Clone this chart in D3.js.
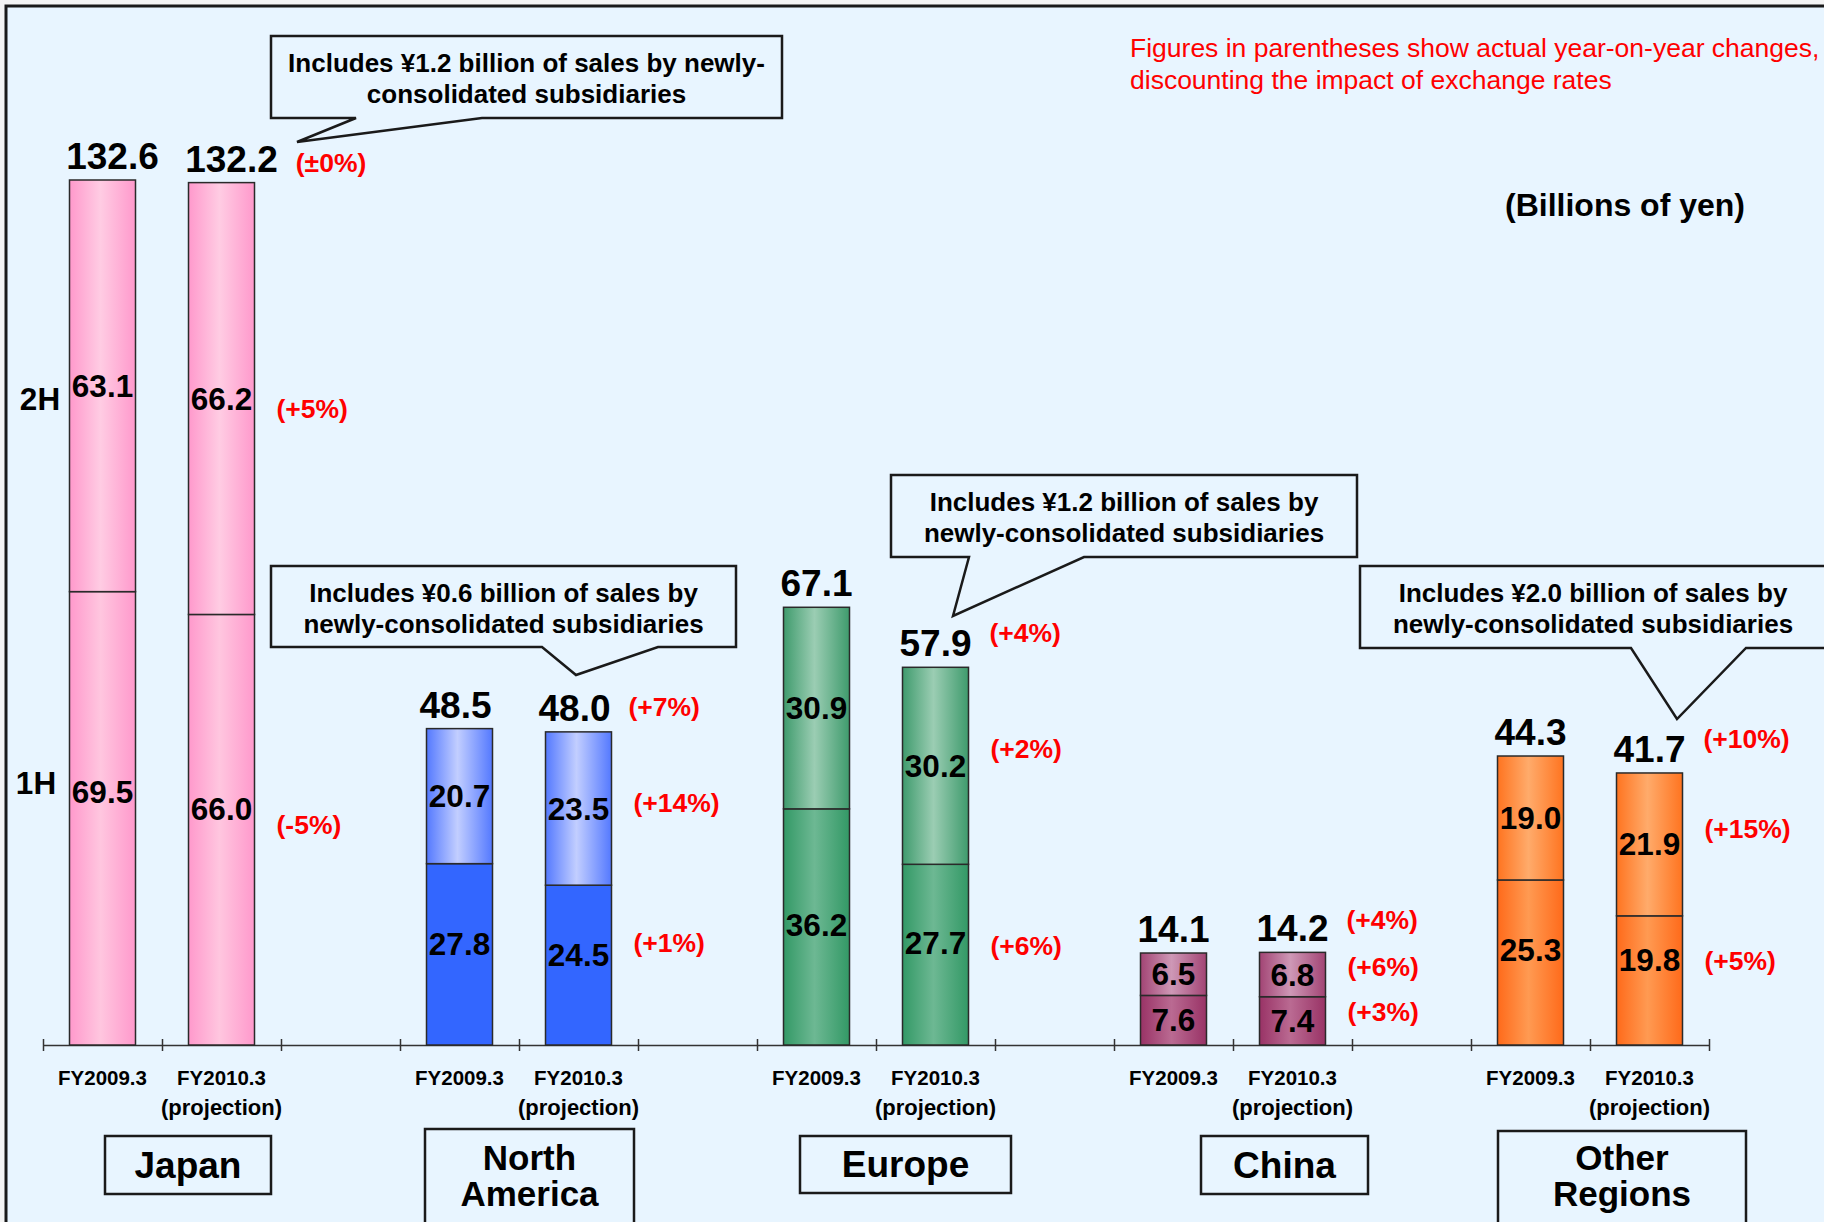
<!DOCTYPE html>
<html>
<head>
<meta charset="utf-8">
<script src="https://cdn.jsdelivr.net/npm/d3@7"></script>
<style>
body{margin:0;background:#f4f4f4;}
svg{display:block;font-family:"Liberation Sans",Arial,sans-serif;}
</style>
</head>
<body>
<div class="canvas"></div>
<script>
// data (billions of yen)
var regions = ['Japan','North America','Europe','China','Other Regions'];
var periods = ['FY2009.3','FY2010.3'];
var firstHalf  = [[69.5,66.0],[27.8,24.5],[36.2,27.7],[7.6,7.4],[25.3,19.8]];
var secondHalf = [[63.1,66.2],[20.7,23.5],[30.9,30.2],[6.5,6.8],[19.0,21.9]];
var totals     = [[132.6,132.2],[48.5,48.0],[67.1,57.9],[14.1,14.2],[44.3,41.7]];
var changeTotal = ['(±0%)','(+7%)','(+4%)','(+4%)','(+10%)'];
var change2H    = ['(+5%)','(+14%)','(+2%)','(+6%)','(+15%)'];
var change1H    = ['(-5%)','(+1%)','(+6%)','(+3%)','(+5%)'];
var calloutText = [
    ['Includes ¥1.2 billion of sales by newly-','consolidated subsidiaries'],
    ['Includes ¥0.6 billion of sales by','newly-consolidated subsidiaries'],
    ['Includes ¥1.2 billion of sales by','newly-consolidated subsidiaries'],
    null,
    ['Includes ¥2.0 billion of sales by','newly-consolidated subsidiaries']
];

// layout / styles
var W = 1824, H = 1222;
var bg = '#e8f5ff';
var colors = [
    {h1:['#ff99cc','#ffc6df'], h2:['#ff99cc','#ffcce3']},
    {h1:['#3366ff','#3366ff'], h2:['#5479ff','#c2ceff']},
    {h1:['#339966','#6db893'], h2:['#3f9b6d','#9bcdb3']},
    {h1:['#993366','#ba6a92'], h2:['#a24474','#ce98b6']},
    {h1:['#ff6a1a','#ff9a52'], h2:['#ff7420','#ffab6b']}
];
var calloutBox = [
    {x0:271,x1:782,y0:36,y1:118,o0:356,o1:482,tx:297,ty:142},
    {x0:271,x1:736,y0:566,y1:647,o0:542,o1:658,tx:576,ty:675},
    {x0:891,x1:1357,y0:475,y1:557,o0:969,o1:1084,tx:953,ty:616},
    null,
    {x0:1360,x1:1826,y0:566,y1:648,o0:1631,o1:1746,tx:1677,ty:719}
];
var regionBox = [
    {x0:105,x1:271,y0:1136,y1:1194},
    {x0:425,x1:634,y0:1129,y1:1245},
    {x0:800,x1:1011,y0:1136,y1:1193},
    {x0:1201,x1:1368,y0:1136,y1:1194},
    {x0:1498,x1:1746,y0:1131,y1:1245}
];
// hand placement nudges (px) as on the slide
var nudge1HLabel = [[-26,-21],[-10,-10],[-2,-12],[0,0],[-12,-20]];
var nudgeTotalX  = [10,-4,0,0,0];
var nudgePctTot  = [7,2,-7,-5,-7];
var nudgePct2H   = [10,-6,-17,-8,-15];
var nudgePct1H   = [-5,-22,-9,-9,-19];

var svg = d3.select('.canvas').append('svg')
    .attr('width',W).attr('height',H);

svg.append('rect')
    .attr('x',6).attr('y',6).attr('width',W+20).attr('height',H+20)
    .attr('fill',bg).attr('stroke','#1a1a1a').attr('stroke-width',3);

// gradients, horizontal edge -> light centre -> edge
var defs = svg.append('defs');
colors.forEach(function(c,g){
    ['h1','h2'].forEach(function(k){
        var grad = defs.append('linearGradient')
            .attr('id','grad'+g+k).attr('x1','0%').attr('x2','100%').attr('y1','0%').attr('y2','0%');
        grad.append('stop').attr('offset','0%').attr('stop-color',c[k][0]);
        grad.append('stop').attr('offset','47%').attr('stop-color',c[k][1]);
        grad.append('stop').attr('offset','100%').attr('stop-color',c[k][0]);
    });
});

// 5 groups x (2 bars + gap) = 14 slots
var slots = d3.range(14);
var x = d3.scaleBand().domain(slots).range([43,1709]);
var slotEdge = d3.scaleLinear().domain([0,14]).range([43,1709]);
var y = d3.scaleLinear().domain([0,132.6]).range([1045,180]);
var barW = 66;

function slotOf(g,p){ return g*3+p; }
function cx(g,p){ return x(slotOf(g,p)) + x.bandwidth()/2; }

// axis with ticks on slot boundaries
var axis = d3.axisBottom(slotEdge).tickValues(d3.range(15)).tickSize(6).tickSizeOuter(0).tickFormat('');
var axG = svg.append('g').attr('transform','translate(0,'+y(0)+')').call(axis);
axG.select('.domain').attr('stroke','#333').attr('stroke-width',1.5);
axG.selectAll('.tick line').attr('y1',-6).attr('y2',6).attr('stroke','#333').attr('stroke-width',1.5);

var bars = svg.append('g').attr('class','bars');
var labels = svg.append('g').attr('class','labels');

regions.forEach(function(r,g){
    periods.forEach(function(p,i){
        var c = cx(g,i);
        var v1 = firstHalf[g][i], v2 = secondHalf[g][i];
        // 1H
        bars.append('rect')
            .attr('x',c-barW/2).attr('y',y(v1)).attr('width',barW).attr('height',y(0)-y(v1))
            .attr('fill','url(#grad'+g+'h1)').attr('stroke','#2a2a2a').attr('stroke-width',1.5);
        // 2H stacked
        bars.append('rect')
            .attr('x',c-barW/2).attr('y',y(v1+v2)).attr('width',barW).attr('height',y(v1)-y(v1+v2))
            .attr('fill','url(#grad'+g+'h2)').attr('stroke','#2a2a2a').attr('stroke-width',1.5);

        labels.append('text')
            .attr('x',c).attr('y',(y(0)+y(v1))/2+nudge1HLabel[g][i])
            .attr('text-anchor','middle').attr('dominant-baseline','central')
            .attr('font-size',31.5).attr('font-weight','bold')
            .text(d3.format('.1f')(v1));
        labels.append('text')
            .attr('x',c).attr('y',(y(v1)+y(v1+v2))/2)
            .attr('text-anchor','middle').attr('dominant-baseline','central')
            .attr('font-size',31.5).attr('font-weight','bold')
            .text(d3.format('.1f')(v2));

        var tot = labels.append('text')
            .attr('x',c+nudgeTotalX[g]).attr('y',y(totals[g][i])-11)
            .attr('text-anchor','middle')
            .attr('font-size',37).attr('font-weight','bold')
            .text(d3.format('.1f')(totals[g][i]));

        // period labels under the axis
        labels.append('text')
            .attr('x',c).attr('y',1077)
            .attr('text-anchor','middle').attr('dominant-baseline','central')
            .attr('font-size',20.5).attr('font-weight','bold')
            .text(p);
        if(i==1){
            labels.append('text')
                .attr('x',c).attr('y',1107)
                .attr('text-anchor','middle').attr('dominant-baseline','central')
                .attr('font-size',22).attr('font-weight','bold')
                .text('(projection)');

            // year-on-year change labels to the right of the FY2010.3 bar
            var totRight = c + nudgeTotalX[g] + tot.node().getComputedTextLength()/2;
            var bx = c + barW/2 + 22;
            labels.append('text')
                .attr('x',totRight+18).attr('y',y(totals[g][i])-27+nudgePctTot[g])
                .attr('dominant-baseline','central')
                .attr('font-size',26.5).attr('font-weight','bold').attr('fill','#ff0000')
                .text(changeTotal[g]);
            labels.append('text')
                .attr('x',bx).attr('y',(y(v1)+y(v1+v2))/2+nudgePct2H[g])
                .attr('dominant-baseline','central')
                .attr('font-size',26.5).attr('font-weight','bold').attr('fill','#ff0000')
                .text(change2H[g]);
            labels.append('text')
                .attr('x',bx).attr('y',(y(0)+y(v1))/2+nudgePct1H[g])
                .attr('dominant-baseline','central')
                .attr('font-size',26.5).attr('font-weight','bold').attr('fill','#ff0000')
                .text(change1H[g]);
        }
    });

    // region name boxes
    var b = regionBox[g];
    svg.append('rect')
        .attr('x',b.x0).attr('y',b.y0).attr('width',b.x1-b.x0).attr('height',b.y1-b.y0)
        .attr('fill',bg).attr('stroke','#1a1a1a').attr('stroke-width',2.5);
    var words = r.split(' ');
    words.forEach(function(w,k){
        svg.append('text')
            .attr('x',(b.x0+b.x1)/2)
            .attr('y',words.length==1 ? (b.y0+b.y1)/2 : 1157+k*36)
            .attr('text-anchor','middle').attr('dominant-baseline','central')
            .attr('font-size',words.length==1 ? 37 : 35).attr('font-weight','bold')
            .text(w);
    });

    // callouts
    var cb = calloutBox[g];
    if(cb){
        var path = 'M'+cb.x0+','+cb.y0+'H'+cb.x1+'V'+cb.y1+'H'+cb.o1+'L'+cb.tx+','+cb.ty+
            'L'+cb.o0+','+cb.y1+'H'+cb.x0+'Z';
        svg.append('path').attr('d',path)
            .attr('fill',bg).attr('stroke','#1a1a1a').attr('stroke-width',2.5).attr('stroke-linejoin','miter');
        calloutText[g].forEach(function(t,k){
            svg.append('text')
                .attr('x',(cb.x0+cb.x1)/2).attr('y',cb.y0+27+k*31)
                .attr('text-anchor','middle').attr('dominant-baseline','central')
                .attr('font-size',26).attr('font-weight','bold')
                .text(t);
        });
    }
});

// half-year markers on the left, beside the Japan FY2009.3 bar
svg.append('text')
    .attr('x',40).attr('y',(y(firstHalf[0][0])+y(totals[0][0]))/2+13)
    .attr('text-anchor','middle').attr('dominant-baseline','central')
    .attr('font-size',31.5).attr('font-weight','bold').text('2H');
svg.append('text')
    .attr('x',36).attr('y',(y(0)+y(firstHalf[0][0]))/2-35)
    .attr('text-anchor','middle').attr('dominant-baseline','central')
    .attr('font-size',31.5).attr('font-weight','bold').text('1H');

// notes top right
svg.append('text')
    .attr('x',1130).attr('y',48).attr('dominant-baseline','central')
    .attr('font-size',26.5).attr('fill','#ff0000')
    .text('Figures in parentheses show actual year-on-year changes,');
svg.append('text')
    .attr('x',1130).attr('y',80).attr('dominant-baseline','central')
    .attr('font-size',26.5).attr('fill','#ff0000')
    .text('discounting the impact of exchange rates');
svg.append('text')
    .attr('x',1625).attr('y',205).attr('text-anchor','middle').attr('dominant-baseline','central')
    .attr('font-size',32).attr('font-weight','bold')
    .text('(Billions of yen)');
</script>
</body>
</html>
